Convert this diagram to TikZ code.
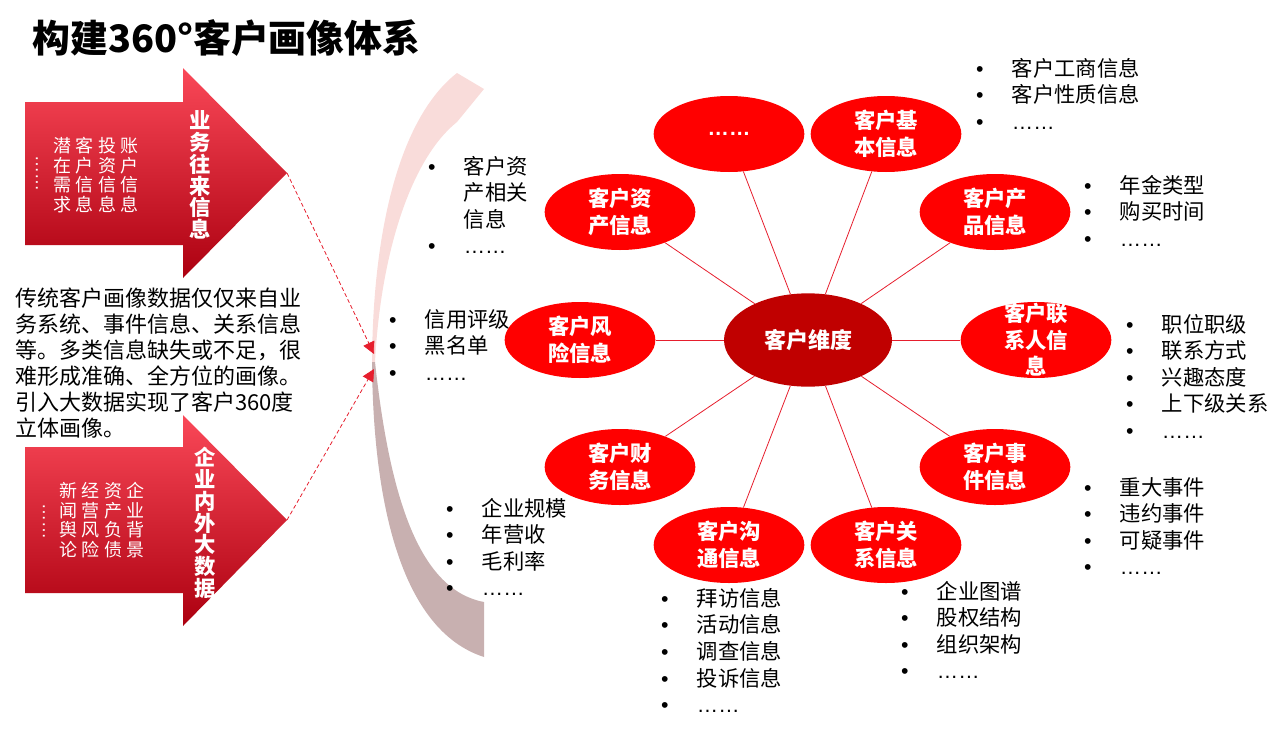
\documentclass[tikz,border=0pt]{standalone}
\usepackage{fontspec}
\setmainfont{Noto Sans CJK SC}
\newfontfamily\latin{Liberation Sans}
\usepackage{tikz}
\usetikzlibrary{arrows.meta, shapes.geometric, positioning}
\usepackage{xcolor}
\definecolor{satred}{RGB}{255,0,0}
\definecolor{dimred}{RGB}{192,0,0}
\definecolor{linkred}{RGB}{230,30,45}
\definecolor{arrtop}{RGB}{250,72,88}
\definecolor{arrmid}{RGB}{236,12,32}
\definecolor{arrbot}{RGB}{172,0,16}
\definecolor{moonup}{RGB}{249,220,218}
\definecolor{moondown}{RGB}{200,176,176}
\newcommand{\itm}[1]{\makebox[10pt][c]{\latin\textbullet}\hspace{19pt}#1}
\newcommand{\sixdots}{{\latin ……}}

\begin{document}
\begin{tikzpicture}[x=0.75pt, y=-0.75pt, >={Triangle[length=9pt, width=9pt]}]
    \tikzstyle{sat} = [ellipse, fill=satred, minimum width=113pt, minimum height=57pt, inner sep=0pt, text=white, align=center, font=\bfseries\fontsize{16}{19.9}\selectfont]
    \tikzstyle{link} = [linkred, line width=0.6pt]
    \tikzstyle{blist} = [anchor=north west, inner sep=0pt, align=left, font=\fontsize{16}{19.9}\selectfont]
    \tikzstyle{col} = [inner sep=0pt, text=white, align=center, font=\fontsize{13.5}{14.6}\selectfont]
    \tikzstyle{vtitle} = [inner sep=0pt, text=white, align=center, font=\bfseries\fontsize{16}{16.3}\selectfont]
    \useasboundingbox (0,0) rectangle (1288,728);

    \node[anchor=west, inner sep=0pt, font=\bfseries\fontsize{28.4}{30}\selectfont] (title) at (32,38) {构建360°客户画像体系};

    % the two big arrows
    \shade[top color=arrtop, middle color=arrmid, bottom color=arrbot] (25,102) -- (183,102) -- (183,68) -- (287,173) -- (183,278) -- (183,245) -- (25,245) -- cycle;
    \shade[top color=arrtop, middle color=arrmid, bottom color=arrbot] (25,447) -- (183,447) -- (183,415) -- (287,520) -- (183,626) -- (183,593) -- (25,593) -- cycle;
    \foreach \x/\txt [count=\i] in {62/潜\\在\\需\\求, 84/客\\户\\信\\息, 107/投\\资\\信\\息, 129/账\\户\\信\\息}
        \node[col] (biz\i) at (\x,175) {\txt};
    \foreach \x/\txt [count=\i] in {68/新\\闻\\舆\\论, 90/经\\营\\风\\险, 113/资\\产\\负\\债, 135/企\\业\\背\\景}
        \node[col] (big\i) at (\x,520) {\txt};
    \node[col, rotate=90] (bizdots) at (37,173) {\sixdots};
    \node[col, rotate=90] (bigdots) at (44,521) {\sixdots};
    \node[vtitle] (biztitle) at (200,175) {业\\务\\往\\来\\信\\息};
    \node[vtitle] (bigtitle) at (205,523) {企\\业\\内\\外\\大\\数\\据};

    \node[anchor=north west, inner sep=0pt, align=left, font=\fontsize{16.5}{19.5}\selectfont] (intro) at (15,288) {传统客户画像数据仅仅来自业\\务系统、事件信息、关系信息\\等。多类信息缺失或不足，很\\难形成准确、全方位的画像。\\引入大数据实现了客户360度\\立体画像。};

    % crescent
    \fill[moonup] (457,73) -- (484,89) -- (457,122) .. controls (412,158) and (381,250) .. (375,362) -- (372,362) .. controls (373,220) and (403,115) .. (457,73) -- cycle;
    \fill[moondown] (372,362) .. controls (373,500) and (400,630) .. (484,657) -- (484,602) .. controls (420,590) and (390,500) .. (375,362) -- cycle;

    \coordinate (tipbiz) at (287,173);
    \coordinate (tipbig) at (287,520);
    \coordinate (moona) at (374,354);
    \coordinate (moonb) at (374,369);
    \draw[->, linkred, line width=0.6pt, dash pattern=on 3pt off 2pt] (tipbiz) -- (moona);
    \draw[->, linkred, line width=0.6pt, dash pattern=on 3pt off 2pt] (tipbig) -- (moonb);

    % customer dimensions
    \node[ellipse, fill=dimred, minimum width=126pt, minimum height=70pt, inner sep=0pt, text=white, font=\bfseries\fontsize{16.5}{19}\selectfont] (dims) at (808,340) {客户维度};
    \node[sat] (more) at (729,134) {\sixdots};
    \node[sat] (basic) at (886,134) {客户基\\本信息};
    \node[sat] (product) at (995,212) {客户产\\品信息};
    \node[sat, inner ysep=-10pt] (contact) at (1036,340) {客户联\\系人信\\息};
    \node[sat] (event) at (995,467) {客户事\\件信息};
    \node[sat] (relation) at (886,545) {客户关\\系信息};
    \node[sat] (comm) at (729,545) {客户沟\\通信息};
    \node[sat] (finance) at (620,467) {客户财\\务信息};
    \node[sat] (risk) at (580,340) {客户风\\险信息};
    \node[sat] (asset) at (620,212) {客户资\\产信息};
    \foreach \n in {more, basic, product, contact, event, relation, comm, finance, risk, asset}
        \draw[link] (dims) -- (\n);

    \node[blist] (basiclist) at (973,58) {\itm{客户工商信息}\\\itm{客户性质信息}\\\itm{\sixdots}};
    \node[blist] (productlist) at (1081,175) {\itm{年金类型}\\\itm{购买时间}\\\itm{\sixdots}};
    \node[blist] (contactlist) at (1123,314) {\itm{职位职级}\\\itm{联系方式}\\\itm{兴趣态度}\\\itm{上下级关系}\\\itm{\sixdots}};
    \node[blist] (eventlist) at (1081,477) {\itm{重大事件}\\\itm{违约事件}\\\itm{可疑事件}\\\itm{\sixdots}};
    \node[blist] (relationlist) at (898,581) {\itm{企业图谱}\\\itm{股权结构}\\\itm{组织架构}\\\itm{\sixdots}};
    \node[blist] (commlist) at (658,588) {\itm{拜访信息}\\\itm{活动信息}\\\itm{调查信息}\\\itm{投诉信息}\\\itm{\sixdots}};
    \node[blist] (financelist) at (443,498) {\itm{企业规模}\\\itm{年营收}\\\itm{毛利率}\\\itm{\sixdots}};
    \node[blist] (risklist) at (386,309) {\itm{信用评级}\\\itm{黑名单}\\\itm{\sixdots}};
    \node[blist] (assetlist) at (425,156) {\itm{客户资}\\\hspace*{29pt}产相关\\\hspace*{29pt}信息\\\itm{\sixdots}};
\end{tikzpicture}
\end{document}
